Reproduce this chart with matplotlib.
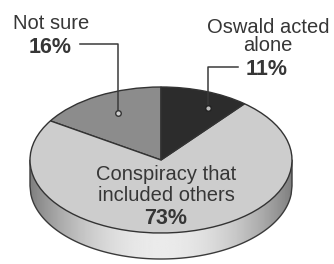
import numpy as np
import matplotlib.pyplot as plt
from matplotlib.patches import Polygon

# Poll results (percent)
labels = ['Not sure', 'Conspiracy that\nincluded others', 'Oswald acted\nalone']
values = [16, 73, 11]
colors = ['#8c8c8c', '#cdcdcd', '#2c2c2c']

W, H = 334, 264
k = 73 / 131          # vertical squash of the tilted pie
depth = 26            # thickness of the pie side, pixels

def to_data(xp, yp):
    # pixel position (from top-left) -> data coords of the squashed axes
    return xp, (H - yp) / k

fig = plt.figure(figsize=(W / 100, H / 100), dpi=100)
ax = fig.add_axes([0, 0, 1, 1])

cx, cy = to_data(161, 160)
r = 131
d = depth / k

# side of the pie: band under the top ellipse with a gradient shading
xs = np.linspace(cx - r, cx + r, 300)
lower = cy - np.sqrt(np.clip(r**2 - (xs - cx)**2, 0, None)) - d
side = Polygon(np.column_stack([np.r_[xs, xs[::-1]], np.r_[lower, np.full_like(xs, cy)]]),
               closed=True, facecolor='none', edgecolor='#3a3a3a', lw=1.0, zorder=2)
ax.add_patch(side)
t = np.linspace(-1, 1, 300)
shade = 0.5 + 0.42 * (1 - t**2)
img = ax.imshow(np.tile(shade, (50, 1)), cmap='gray', vmin=0, vmax=1, aspect='auto',
                extent=(cx - r, cx + r, cy - r - d, cy), zorder=1)
img.set_clip_path(side)

# top of the pie
wedges, _ = ax.pie(values, colors=colors, startangle=90, counterclock=True,
                   center=(cx, cy), radius=r,
                   wedgeprops=dict(edgecolor='#333333', linewidth=1.0))
for w in wedges:
    w.set_zorder(3)

ax.set_aspect('auto')
ax.set_xlim(0, W)
ax.set_ylim(0, H / k)
ax.set_axis_off()

txt = '#363636'
font = 'Liberation Sans'

# Not sure
ax.text(*to_data(51, 29), 'Not sure', ha='center', va='baseline', fontsize=14.5,
        color=txt, family=font, zorder=5)
ax.text(*to_data(50, 53), f'{values[0]}%', ha='center', va='baseline', fontsize=15.5,
        fontweight='bold', color=txt, family=font, zorder=5)
lx, ly = zip(to_data(80, 44), to_data(118, 44), to_data(118, 113))
ax.plot(lx, ly, color='#3a3a3a', lw=1.1, zorder=5)
ax.plot(lx[-1], ly[-1], 'o', ms=4, mfc='#cfcfcf', mec='#333333', mew=1, zorder=6)

# Oswald acted alone
ax.text(*to_data(268, 33), 'Oswald acted', ha='center', va='baseline', fontsize=14.5,
        color=txt, family=font, zorder=5)
ax.text(*to_data(268, 51), 'alone', ha='center', va='baseline', fontsize=14.5,
        color=txt, family=font, zorder=5)
ax.text(*to_data(267, 75), f'{values[2]}%', ha='center', va='baseline', fontsize=15.5,
        fontweight='bold', color=txt, family=font, zorder=5)
lx, ly = zip(to_data(238, 67), to_data(208, 67), to_data(208, 108))
ax.plot(lx, ly, color='#3a3a3a', lw=1.1, zorder=5)
ax.plot(lx[-1], ly[-1], 'o', ms=4, mfc='#bdbdbd', mec='#222222', mew=1, zorder=6)

# Conspiracy
ax.text(*to_data(166, 180), 'Conspiracy that', ha='center', va='baseline', fontsize=14.5,
        color=txt, family=font, zorder=5)
ax.text(*to_data(166, 201), 'included others', ha='center', va='baseline', fontsize=14.5,
        color=txt, family=font, zorder=5)
ax.text(*to_data(166, 224), f'{values[1]}%', ha='center', va='baseline', fontsize=15.5,
        fontweight='bold', color=txt, family=font, zorder=5)

fig.savefig('out.png', dpi=100)
